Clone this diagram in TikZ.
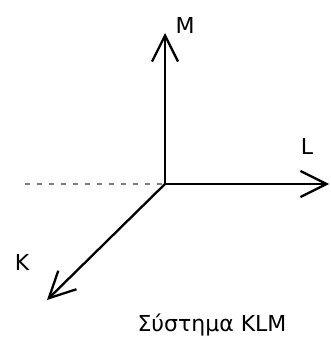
\documentclass[tikz,border=0pt]{standalone}
\usepackage{fontspec}
\setmainfont{DejaVu Sans}
\usetikzlibrary{arrows.meta}
\begin{document}
\begin{tikzpicture}[x=1pt,y=1pt,
  axis/.style={line width=2.3pt,-{Straight Barb[length=26pt,width=26pt,line width=2.3pt]}},
  lbl/.style={font=\fontsize{22}{26}\selectfont,inner sep=0pt}]
\useasboundingbox (0,0) rectangle (330,338);
\coordinate (O) at (165,154);
\coordinate (M) at (165,305);
\coordinate (L) at (329,154);
\coordinate (K) at (47,38);
\coordinate (D) at (25,154);
\draw[gray,line width=1.2pt,dash pattern=on 5pt off 7pt] (D) -- (O);
\draw[axis] (O) -- (M);
\draw[axis] (O) -- (L);
\draw[axis] (O) -- (K);
\node[lbl] (m) at (185,313) {M};
\node[lbl] (l) at (307,192) {L};
\node[lbl] (k) at (22,75.5) {K};
\node[lbl,anchor=base] (cap) at (212,6) {Σύστημα KLM};
\end{tikzpicture}
\end{document}
